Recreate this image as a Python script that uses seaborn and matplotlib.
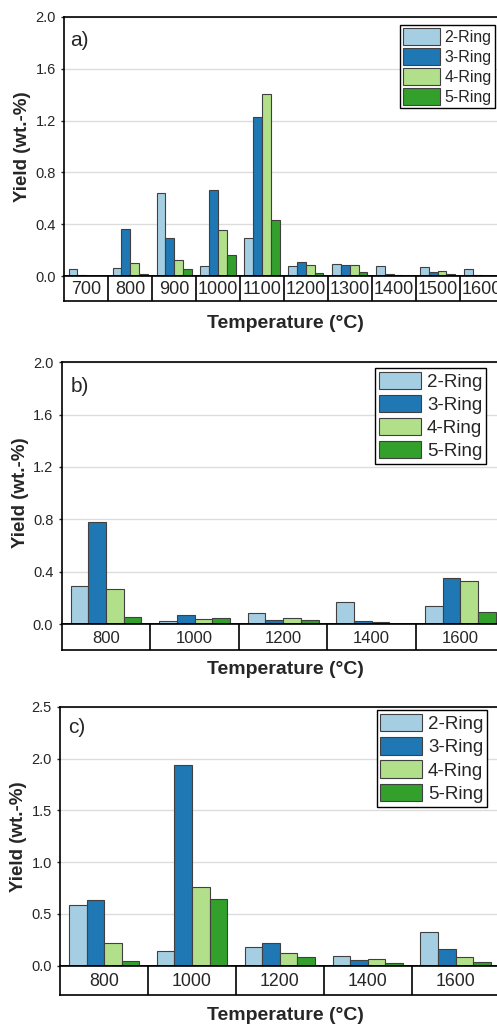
import pandas as pd
import matplotlib.pyplot as plt
import seaborn as sns

# ring classes and colours
rings = ["2-Ring", "3-Ring", "4-Ring", "5-Ring"]
colors = ["#a6cee3", "#1f78b4", "#b2df8a", "#33a02c"]

# panel a)
temps_a = ["700", "800", "900", "1000", "1100", "1200", "1300", "1400", "1500", "1600"]
ring2_a = [0.055, 0.060, 0.643, 0.077, 0.296, 0.080, 0.093, 0.077, 0.070, 0.052]
ring3_a = [0.008, 0.360, 0.293, 0.664, 1.230, 0.110, 0.083, 0.015, 0.028, 0.008]
ring4_a = [0.000, 0.098, 0.124, 0.355, 1.405, 0.083, 0.087, 0.008, 0.041, 0.003]
ring5_a = [0.000, 0.015, 0.052, 0.160, 0.432, 0.020, 0.028, 0.000, 0.018, 0.000]

# panel b)
temps_b = ["800", "1000", "1200", "1400", "1600"]
ring2_b = [0.293, 0.023, 0.087, 0.170, 0.138]
ring3_b = [0.777, 0.069, 0.028, 0.023, 0.349]
ring4_b = [0.267, 0.036, 0.048, 0.015, 0.326]
ring5_b = [0.056, 0.043, 0.031, 0.003, 0.092]

# panel c)
temps_c = ["800", "1000", "1200", "1400", "1600"]
ring2_c = [0.586, 0.142, 0.183, 0.090, 0.322]
ring3_c = [0.637, 1.934, 0.216, 0.052, 0.164]
ring4_c = [0.216, 0.757, 0.120, 0.065, 0.084]
ring5_c = [0.045, 0.647, 0.084, 0.026, 0.036]


def long_df(temps, *series):
    rows = []
    for ring, vals in zip(rings, series):
        for t, v in zip(temps, vals):
            rows.append({"Temperature": t, "Ring": ring, "Yield": v})
    return pd.DataFrame(rows)


sns.set_style("ticks")
plt.rcParams["font.family"] = ["Liberation Sans", "DejaVu Sans"]

W, H = 497, 1026
fig = plt.figure(figsize=(W / 100, H / 100), dpi=100)


def box(left, top, right, bottom):
    return [left / W, 1 - bottom / H, (right - left) / W, (bottom - top) / H]


panels = [
    dict(letter="a)", temps=temps_a, data=(ring2_a, ring3_a, ring4_a, ring5_a),
         main=(64.3, 17, 503.5, 276), row_bottom=301, ymax=2.0, step=0.4,
         leg=(0.981, 0.969), leg_fs=11.5, hl=2.3, hh=1.2, ls=0.22, cat_fs=13,
         xlab_y=324, let_pos=(0.013, 0.945)),
    dict(letter="b)", temps=temps_b, data=(ring2_b, ring3_b, ring4_b, ring5_b),
         main=(61.7, 362.3, 504.6, 624), row_bottom=650, ymax=2.0, step=0.4,
         leg=(0.958, 0.978), leg_fs=13.5, hl=2.24, hh=1.07, ls=0.2, cat_fs=12,
         xlab_y=669, let_pos=(0.02, 0.945)),
    dict(letter="c)", temps=temps_c, data=(ring2_c, ring3_c, ring4_c, ring5_c),
         main=(60.3, 706.7, 499.5, 965.7), row_bottom=995, ymax=2.5, step=0.5,
         leg=(0.972, 0.987), leg_fs=13.5, hl=2.24, hh=1.07, ls=0.22, cat_fs=12.8,
         xlab_y=1015, let_pos=(0.018, 0.956)),
]

for p in panels:
    l, t, r, b = p["main"]
    ax = fig.add_axes(box(l, t, r, b))
    df = long_df(p["temps"], *p["data"])
    sns.barplot(data=df, x="Temperature", y="Yield", hue="Ring",
                order=p["temps"], hue_order=rings, palette=colors, saturation=1,
                edgecolor="#404040", linewidth=0.8, errorbar=None, ax=ax)
    n = len(p["temps"])
    ax.set_xlim(-0.5, n - 0.5)
    ax.set_ylim(0, p["ymax"])
    ticks = [round(i * p["step"], 2) for i in range(int(round(p["ymax"] / p["step"])) + 1)]
    ax.set_yticks(ticks)
    ax.set_yticklabels([f"{v:.1f}" for v in ticks], fontsize=10.5)
    ax.set_xticks([])
    ax.set_xlabel("")
    ax.set_ylabel("Yield (wt.-%)", fontsize=13.5, fontweight="bold", labelpad=3)
    ax.tick_params(axis="y", length=2.5, width=1, pad=3.5, right=True, direction="out")
    ax.grid(axis="y", color="#dddddd", lw=1)
    ax.set_axisbelow(True)
    for s in ax.spines.values():
        s.set_visible(True)
        s.set_linewidth(1.2)
        s.set_color("black")

    handles, labels = ax.get_legend_handles_labels()
    leg = ax.legend(handles, labels, loc="upper right", bbox_to_anchor=p["leg"],
                    fontsize=p["leg_fs"], frameon=True, fancybox=False,
                    edgecolor="black", framealpha=1, handlelength=p["hl"],
                    handleheight=p["hh"], labelspacing=p["ls"], borderpad=0.2,
                    handletextpad=0.3, borderaxespad=0)
    leg.get_frame().set_linewidth(1.0)

    ax.text(p["let_pos"][0], p["let_pos"][1], p["letter"], transform=ax.transAxes,
            ha="left", va="top", fontsize=15)

    # category row below the axis
    rax = fig.add_axes(box(l, b, r, p["row_bottom"]))
    rax.set_xlim(-0.5, n - 0.5)
    rax.set_ylim(0, 1)
    rax.set_xticks([])
    rax.set_yticks([])
    for s in rax.spines.values():
        s.set_visible(True)
        s.set_linewidth(1.2)
        s.set_color("black")
    for i in range(1, n):
        rax.axvline(i - 0.5, color="black", lw=1.2)
    for i, temp in enumerate(p["temps"]):
        rax.text(i, 0.45, temp, ha="center", va="center", fontsize=p["cat_fs"])

    fig.text(285 / W, 1 - p["xlab_y"] / H, "Temperature (°C)", ha="center",
             va="center", fontsize=14, fontweight="bold")

fig.savefig("out.png", dpi=100)
